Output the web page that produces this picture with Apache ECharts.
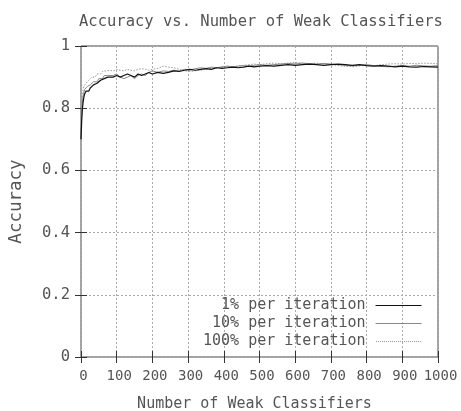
<!DOCTYPE html>
<html><head><meta charset="utf-8">
<script src="https://cdn.jsdelivr.net/npm/echarts@6/dist/echarts.min.js"></script>
<style>html,body{margin:0;padding:0;background:#fff}#c{width:461px;height:411px}</style>
</head><body><div id="c"></div>
<script>
var xs = [0,2,4,6,8,10,14,18,22,26,30,35,40,45,50,55,60,65,70,75,80,90,100,110,120,130,140,150,160,170,180,190,200,215,230,245,260,275,290,305,320,335,350,365,380,395,410,425,440,455,470,485,500,520,540,560,580,600,620,640,660,680,700,720,740,760,780,800,820,840,860,880,900,920,940,960,980,1000];
var acc1 = [0.70,0.76,0.80,0.82,0.835,0.845,0.855,0.86,0.855,0.865,0.87,0.875,0.87,0.88,0.885,0.89,0.885,0.895,0.89,0.9,0.895,0.9,0.905,0.9,0.905,0.91,0.905,0.9,0.91,0.905,0.91,0.915,0.91,0.915,0.912,0.915,0.92,0.918,0.922,0.925,0.922,0.925,0.927,0.925,0.93,0.928,0.93,0.932,0.93,0.932,0.935,0.933,0.935,0.937,0.935,0.938,0.94,0.938,0.94,0.942,0.94,0.938,0.94,0.942,0.94,0.938,0.94,0.937,0.935,0.937,0.935,0.933,0.935,0.933,0.932,0.934,0.933,0.932];
var acc10 = [0.70,0.78,0.82,0.84,0.85,0.86,0.855,0.87,0.865,0.875,0.88,0.885,0.89,0.885,0.895,0.9,0.895,0.905,0.9,0.905,0.91,0.905,0.91,0.9,0.895,0.9,0.905,0.895,0.905,0.91,0.905,0.915,0.92,0.915,0.92,0.918,0.922,0.92,0.925,0.923,0.927,0.93,0.928,0.932,0.93,0.933,0.935,0.933,0.935,0.937,0.935,0.938,0.94,0.938,0.94,0.942,0.944,0.942,0.945,0.943,0.942,0.944,0.942,0.94,0.938,0.936,0.938,0.94,0.937,0.935,0.933,0.935,0.937,0.935,0.938,0.936,0.935,0.937];
var acc100 = [0.72,0.8,0.84,0.86,0.87,0.875,0.88,0.885,0.89,0.895,0.9,0.905,0.9,0.91,0.915,0.91,0.918,0.915,0.92,0.918,0.922,0.92,0.925,0.922,0.92,0.925,0.922,0.92,0.925,0.927,0.925,0.922,0.925,0.928,0.935,0.932,0.93,0.925,0.92,0.918,0.92,0.922,0.925,0.928,0.93,0.932,0.935,0.933,0.936,0.938,0.94,0.942,0.94,0.943,0.945,0.943,0.945,0.947,0.945,0.943,0.945,0.942,0.94,0.937,0.935,0.933,0.936,0.938,0.936,0.94,0.942,0.943,0.942,0.944,0.943,0.945,0.944,0.943];
var seriesNames = ['1% per iteration','10% per iteration','100% per iteration'];
var titleText = 'Accuracy vs. Number of Weak Classifiers';
var xName = 'Number of Weak Classifiers';
var yName = 'Accuracy';

function pairs(ys){ return xs.map(function(x,i){ return [x, ys[i]]; }); }
var font = 'DejaVu Sans Mono';
var txt = '#555';
var solidIcon = 'path://M0,0h92v2h-92z';
var dots = '';
for (var k = 0; k < 23; k++) { dots += 'M' + (k*4) + ',0h2v2h-2z'; }
var dottedIcon = 'path://' + dots;
var chart = echarts.init(document.getElementById('c'), null, {renderer:'canvas'});
var tickStyle = {show:true, inside:true, length:6, lineStyle:{color:'#333', width:1}};
chart.setOption({
  animation:false,
  backgroundColor:'#fff',
  title:{text:titleText, left:74, top:9, textStyle:{fontFamily:font, fontSize:15.5, fontWeight:'normal', color:txt}},
  grid:{left:81, right:23, top:46, bottom:54, outerBoundsMode:'none', containLabel:false,
        show:true, borderColor:'#444', borderWidth:1, backgroundColor:'transparent'},
  legend:{
    orient:'vertical', left:198, top:293, align:'right', itemWidth:46, itemHeight:1, itemGap:3,
    textStyle:{fontFamily:font, fontSize:15, color:txt, padding:[0,5,0,0]},
    data:[
      {name:seriesNames[0], icon:solidIcon},
      {name:seriesNames[1], icon:solidIcon},
      {name:seriesNames[2], icon:dottedIcon}
    ]
  },
  xAxis:[
    {type:'value', min:0, max:1000, interval:100, position:'bottom',
     name:xName, nameLocation:'middle', nameGap:40, nameTextStyle:{fontFamily:font, fontSize:15, color:txt, padding:[0,10,0,0]},
     axisLine:{show:false}, axisTick:tickStyle,
     axisLabel:{fontFamily:font, fontSize:14, color:txt, margin:12, showMaxLabel:true, showMinLabel:true, hideOverlap:false,
       padding:[0,0,0,5], formatter:function(v){ return String(v); }},
     splitLine:{show:true, lineStyle:{color:'#aaa', type:[2,2], width:1}}},
    {type:'value', min:0, max:1000, interval:100, position:'top',
     axisLine:{show:false}, axisTick:tickStyle, axisLabel:{show:false}, splitLine:{show:false}}
  ],
  yAxis:[
    {type:'value', min:0, max:1, interval:0.2, position:'left',
     name:yName, nameLocation:'middle', nameRotate:90, nameGap:56, nameTextStyle:{fontFamily:font, fontSize:17.5, color:txt},
     axisLine:{show:false}, axisTick:tickStyle,
     axisLabel:{fontFamily:font, fontSize:15.5, color:txt, margin:11},
     splitLine:{show:true, lineStyle:{color:'#aaa', type:[2,2], width:1}}},
    {type:'value', min:0, max:1, interval:0.2, position:'right',
     axisLine:{show:false}, axisTick:tickStyle, axisLabel:{show:false}, splitLine:{show:false}}
  ],
  series:[
    {name:seriesNames[0], type:'line', data:pairs(acc1), showSymbol:false, symbol:'none', z:4,
     lineStyle:{color:'#111', width:1.2}, itemStyle:{color:'#111'}},
    {name:seriesNames[1], type:'line', data:pairs(acc10), showSymbol:false, symbol:'none', z:3,
     lineStyle:{color:'#888', width:1}, itemStyle:{color:'#888'}},
    {name:seriesNames[2], type:'line', data:pairs(acc100), showSymbol:false, symbol:'none', z:2,
     lineStyle:{color:'#999', width:1, type:[1.5,1.5]}, itemStyle:{color:'#999'}}
  ]
});
</script></body></html>
